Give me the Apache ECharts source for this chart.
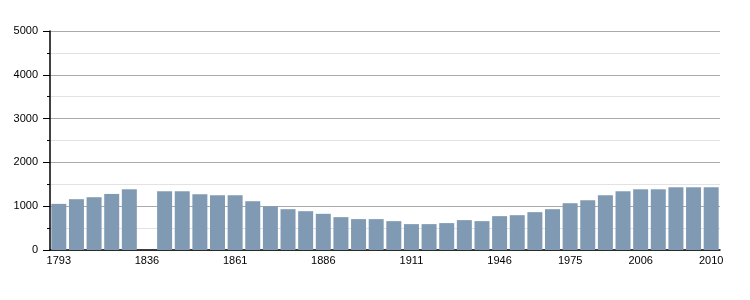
<!DOCTYPE html>
<html><head><meta charset="utf-8">
<script src="https://cdn.jsdelivr.net/npm/echarts@6/dist/echarts.min.js"></script>
<style>html,body{margin:0;padding:0;background:#fff}#c{width:750px;height:300px}</style>
</head><body><div id="c"></div>
<script>
const years = ['1793','1800','1806','1821','1831','1836','1841','1846','1851','1856','1861','1866','1872','1876','1881','1886','1891','1896','1901','1906','1911','1921','1926','1931','1936','1946','1954','1962','1968','1975','1982','1990','1999','2006','2007','2008','2009','2010'];
const population = [1053,1160,1205,1280,1386,'-',1341,1341,1273,1250,1250,1114,1000,932,886,826,750,705,705,659,591,591,614,682,659,773,795,864,932,1068,1136,1250,1341,1386,1386,1432,1432,1432];
const shownLabels = ['1793','1836','1861','1886','1911','1946','1975','2006','2010'];
const yTicks = [0,1000,2000,3000,4000,5000];

const chart = echarts.init(document.getElementById('c'), null, {renderer:'canvas'});
chart.setOption({
  animation:false,
  grid:{left:50,right:30,top:31,bottom:50},
  xAxis:{
    type:'category', data:years,
    axisLine:{lineStyle:{color:'#000',width:1.5}},
    axisTick:{show:false},
    axisLabel:{
      interval:(i,v)=>shownLabels.includes(v),
      color:'#000', fontFamily:'Liberation Sans, Arial', fontSize:11, margin:5
    },
    splitLine:{show:false}
  },
  yAxis:{
    type:'value', min:yTicks[0], max:yTicks[yTicks.length-1], interval:1000,
    axisLine:{show:true,lineStyle:{color:'#000',width:1.5}},
    axisTick:{show:true,length:7,lineStyle:{color:'#000'}},
    minorTick:{show:true,splitNumber:2,length:3,lineStyle:{color:'#000'}},
    axisLabel:{color:'#000',fontFamily:'Liberation Sans, Arial',fontSize:11,margin:12,formatter:v=>String(v)},
    splitLine:{show:true,lineStyle:{color:'#aaaaaa',width:1}},
    minorSplitLine:{show:true,lineStyle:{color:'#e2e2e2',width:1}}
  },
  series:[{
    type:'bar', data:population, barCategoryGap:'15%',
    itemStyle:{color:'#7f9ab2'}
  }]
});
</script></body></html>
